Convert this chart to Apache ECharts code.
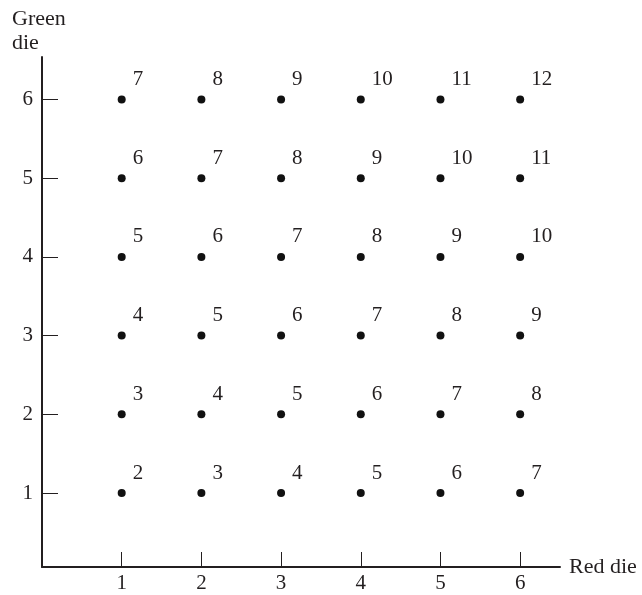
<!DOCTYPE html>
<html>
<head>
<meta charset="utf-8">
<script src="https://cdn.jsdelivr.net/npm/echarts@6/dist/echarts.min.js"></script>
<style>
  html, body { margin: 0; padding: 0; background: #fff; }
  #main { width: 642px; height: 595px; }
</style>
</head>
<body>
<div id="main"></div>
<script>
// die faces on each axis
const redDie = [1, 2, 3, 4, 5, 6];
const greenDie = [1, 2, 3, 4, 5, 6];
// sum written next to each point, rows = green die 1..6, cols = red die 1..6
const sums = [
  [2, 3, 4, 5, 6, 7],
  [3, 4, 5, 6, 7, 8],
  [4, 5, 6, 7, 8, 9],
  [5, 6, 7, 8, 9, 10],
  [6, 7, 8, 9, 10, 11],
  [7, 8, 9, 10, 11, 12]
];
const tickValues = [1, 2, 3, 4, 5, 6];

const font = 'Liberation Serif';
const ink = '#231f20';

const points = [];
greenDie.forEach((g, gi) => {
  redDie.forEach((r, ri) => {
    points.push({ value: [r, g], label: { formatter: String(sums[gi][ri]) } });
  });
});

const chart = echarts.init(document.getElementById('main'), null, { renderer: 'canvas' });

const option = {
  animation: false,
  backgroundColor: '#fff',
  grid: { left: 42, right: 82, top: 57, bottom: 28 },
  xAxis: {
    type: 'value',
    min: 0,
    max: 6.5,
    interval: 1,
    name: 'Red die',
    nameLocation: 'end',
    nameGap: 9,
    nameTextStyle: { fontFamily: font, fontSize: 22, color: ink, verticalAlign: 'middle', align: 'left' },
    axisLine: { lineStyle: { color: ink, width: 2 } },
    axisTick: { inside: true, length: 15, customValues: tickValues, lineStyle: { color: ink, width: 1 } },
    axisLabel: {
      fontFamily: font, fontSize: 21, color: ink, margin: 6,
      customValues: tickValues
    },
    splitLine: { show: false }
  },
  yAxis: {
    type: 'value',
    // the x axis sits slightly above y = 0 in the original
    min: 0.06,
    max: 6.54,
    axisLine: { lineStyle: { color: ink, width: 2 } },
    axisTick: { inside: true, length: 16, customValues: tickValues, lineStyle: { color: ink, width: 1 } },
    axisLabel: {
      fontFamily: font, fontSize: 21, color: ink, margin: 9,
      customValues: tickValues
    },
    splitLine: { show: false }
  },
  graphic: [{
    type: 'text',
    left: 12,
    top: 7,
    style: { text: 'Green\ndie', font: '22px "Liberation Serif"', fill: ink, lineHeight: 24 }
  }],
  series: [{
    type: 'scatter',
    symbol: 'circle',
    symbolSize: 8,
    itemStyle: { color: '#111', opacity: 1 },
    label: {
      show: true,
      position: [15, -16],
      align: 'left',
      verticalAlign: 'middle',
      fontFamily: font,
      fontSize: 21,
      color: ink
    },
    data: points
  }]
};

chart.setOption(option);
</script>
</body>
</html>
